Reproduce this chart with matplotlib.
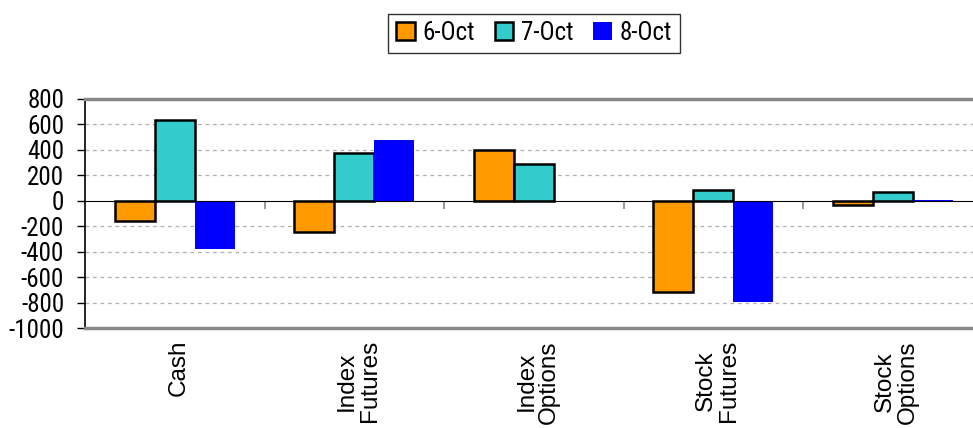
import matplotlib
matplotlib.use("Agg")
import matplotlib.pyplot as plt
import matplotlib.font_manager as fm
import numpy as np
from matplotlib.patches import Patch

categories = ["Cash", "Index\nFutures", "Index\nOptions", "Stock\nFutures", "Stock\nOptions"]
series_names = ["6-Oct", "7-Oct", "8-Oct"]
oct6 = [-158, -243, 401, -717, -32]
oct7 = [638, 372, 292, 82, 71]
oct8 = [-377, 474, 0, -796, 4]
yticks = [-1000, -800, -600, -400, -200, 0, 200, 400, 600, 800]

names = {f.name for f in fm.fontManager.ttflist}
narrow = "Liberation Sans"
for cand in ["Liberation Sans Narrow", "Arial Narrow", "Roboto Condensed",
             "DejaVu Sans Condensed", "Open Sans Condensed", "Noto Sans Condensed"]:
    if cand in names:
        narrow = cand
        break
plt.rcParams['font.family'] = ['Liberation Sans', 'DejaVu Sans']

colors = ["#FF9900", "#33CCCC", "#0000FF"]
edges = ["black", "black", "none"]

fig = plt.figure(figsize=(9.73, 4.28), dpi=100)
ax = fig.add_axes([85/973, 1-328/428, 5*179.5/973, 229/428])

x = np.arange(len(categories))
w = 0.223
data = [oct6, oct7, oct8]
for k, (vals, c, e) in enumerate(zip(data, colors, edges)):
    ax.bar(x + (k-1)*w, vals, width=w, color=c, edgecolor=e,
           linewidth=1.8 if e != "none" else 0, zorder=3)

ax.set_xlim(-0.5, 4.5)
ax.set_ylim(-1000, 800)
ax.set_yticks(yticks)
ysize = 17 if narrow == "Liberation Sans" else 18
ax.set_yticklabels([str(v) for v in yticks], fontsize=ysize, family=narrow)
ax.tick_params(axis='y', direction='out', length=6, width=1, color='black', pad=9)

for v in yticks:
    if v not in (0, -1000, 800):
        ax.axhline(v, color='#b0b0b0', linestyle=(0, (3, 3)), linewidth=0.9, zorder=1)

ax.spines['bottom'].set_position(('data', 0))
ax.spines['bottom'].set_color('black')
ax.spines['bottom'].set_linewidth(0.8)
ax.spines['bottom'].set_zorder(4)
ax.set_xticks(np.arange(0.5, 4.5, 1.0))
ax.set_xticklabels([])
ax.tick_params(axis='x', direction='out', length=6, width=1.2, color='#888888')

ax.spines['right'].set_visible(False)
ax.spines['top'].set_color('#888888')
ax.spines['top'].set_linewidth(2.5)
ax.spines['left'].set_color('black')
ax.spines['left'].set_linewidth(1.2)
ax.axhline(-1000, color='#888888', linewidth=2.5, clip_on=False, zorder=5)

for i, lab in enumerate(categories):
    ax.annotate(lab, xy=(i, 0), xycoords=ax.get_xaxis_transform(),
                xytext=(4, -12), textcoords='offset pixels',
                rotation=90, ha='center', va='top', multialignment='center',
                fontsize=17.5, linespacing=1.05, annotation_clip=False)

handles = [Patch(facecolor=c, edgecolor=e, linewidth=1.8 if e != "none" else 0)
           for c, e in zip(colors, edges)]
leg = fig.legend(handles, series_names, loc='center', bbox_to_anchor=(534/973, 1-33/428),
                 ncol=3, frameon=True, fancybox=False,
                 prop={'family': narrow, 'size': ysize},
                 handlelength=0.75, handleheight=0.75, handletextpad=0.3,
                 columnspacing=0.8, borderpad=0.3, edgecolor='black')
leg.get_frame().set_linewidth(1.0)

fig.savefig("out.png", dpi=100)
